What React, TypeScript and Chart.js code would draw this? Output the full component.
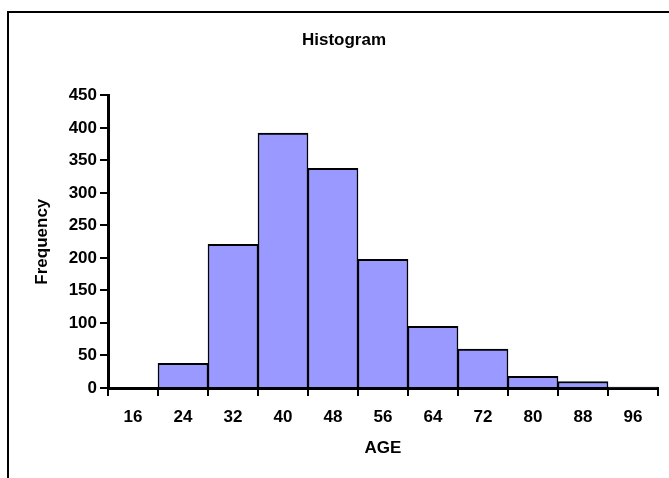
import React, { useEffect, useRef } from "react";
import { Chart, registerables } from "chart.js";

Chart.register(...registerables);

const categories = ["16", "24", "32", "40", "48", "56", "64", "72", "80", "88", "96"];
const frequency = [0, 38, 221, 392, 338, 198, 95, 60, 18, 10, 1];
const chartTitle = "Histogram";
const xTitle = "AGE";
const yTitle = "Frequency";

const FONT = '"Liberation Sans", Arial, Helvetica, sans-serif';

export default function App() {
  const ref = useRef<HTMLCanvasElement | null>(null);

  useEffect(() => {
    if (!ref.current) return;
    const font = { family: FONT, size: 17, weight: "bold" as const };
    const chart = new Chart(ref.current, {
      type: "bar",
      data: {
        labels: categories,
        datasets: [
          {
            label: yTitle,
            data: frequency,
            backgroundColor: "#9999FF",
            borderColor: "#000000",
            borderWidth: { top: 2, left: 1.5, right: 1.5, bottom: 0 },
            borderSkipped: false,
            categoryPercentage: 1,
            barPercentage: 1,
          },
        ],
      },
      options: {
        responsive: false,
        animation: false,
        devicePixelRatio: 1,
        layout: { padding: { left: 30, right: 11, top: 0, bottom: 15 } },
        plugins: {
          legend: { display: false },
          tooltip: { enabled: false },
          title: {
            display: true,
            text: chartTitle,
            color: "#000",
            font,
            padding: { top: 30, bottom: 45 },
          },
        },
        scales: {
          x: {
            offset: true,
            border: { display: true, color: "#000", width: 3 },
            grid: {
              offset: true,
              drawOnChartArea: false,
              drawTicks: true,
              tickLength: 8,
              color: "#000",
              lineWidth: 2,
            },
            ticks: { color: "#000", font, padding: 11, maxRotation: 0 },
            title: {
              display: true,
              text: xTitle,
              color: "#000",
              font,
              padding: { top: 4, bottom: 4 },
            },
            afterFit: (s: any) => {
              s.height = 75;
            },
          },
          y: {
            min: 0,
            max: 450,
            border: { display: true, color: "#000", width: 3 },
            grid: {
              drawOnChartArea: false,
              drawTicks: true,
              tickLength: 8,
              color: "#000",
              lineWidth: 2,
            },
            ticks: { stepSize: 50, color: "#000", font, padding: 3 },
            title: {
              display: true,
              text: yTitle,
              color: "#000",
              font,
              padding: { top: 2, bottom: 2 },
            },
            afterFit: (s: any) => {
              s.width = 78;
            },
          },
        },
      },
    });
    return () => chart.destroy();
  }, []);

  return (
    <div
      style={{
        position: "absolute",
        left: 0,
        top: 0,
        width: 669,
        height: 478,
        overflow: "hidden",
        background: "#fff",
      }}
    >
      <div
        style={{
          position: "absolute",
          left: 7,
          top: 11,
          width: 700,
          height: 500,
          borderLeft: "2px solid #000",
          borderTop: "2px solid #000",
        }}
      />
      <canvas
        ref={ref}
        width={669}
        height={478}
        style={{ position: "absolute", left: 0, top: 0, width: 669, height: 478 }}
      />
    </div>
  );
}
